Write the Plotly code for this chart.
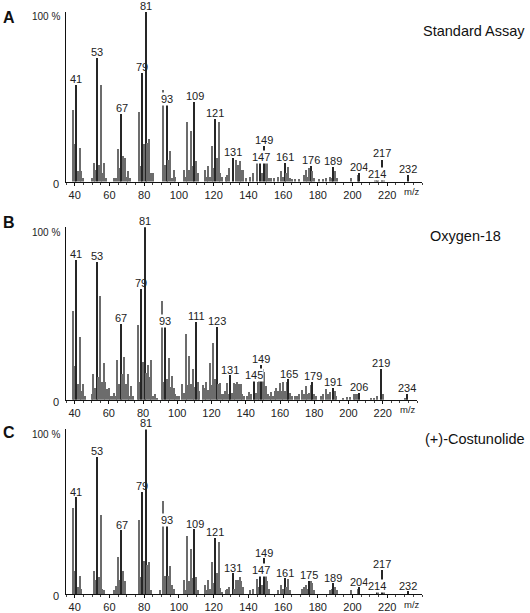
import plotly.graph_objects as go

# ---------------- data ----------------
A_MZ = [39,40,41,42,43,44,45,50,51,52,53,54,55,56,57,58,63,64,65,66,67,68,69,70,71,72,
        77,78,79,80,81,82,83,84,85,91,92,93,94,95,96,97,98,103,104,105,106,107,108,109,110,111,
        115,116,117,118,119,120,121,122,123,124,125,127,128,129,131,133,134,135,136,137,139,
        141,143,145,147,148,149,150,151,152,153,155,157,159,160,161,162,163,164,165,167,169,
        172,173,174,175,176,177,178,181,183,185,187,188,189,190,191,199,203,204,213,214,215,
        217,218,232]
A_INT = [42,22,57,6,20,6,2,2,11,7,73,10,57,5,11,2,2,2,19,8,40,15,14,3,6,2,
         41,9,64,22,100,23,25,5,5,54,10,45,13,18,2,7,3,7,3,35,7,30,9,47,12,5,
         7,3,9,3,21,8,37,14,35,5,3,3,4,8,14,13,10,12,7,7,2,
         3,5,11,11,5,21,12.5,10.7,2,2,2,3,6,3,11,5,8.5,2,1.5,1.5,1.5,
         4,7,3,8,9,6.5,2,1.5,1.5,2,3,2,8.5,6,2,2,4,5,1,1,2,
         13,1,4]
A_LABELS = [41,53,67,79,81,93,109,121,131,149,147,161,176,189,204,217,214,232]

B_MZ = [39,40,41,42,43,44,45,46,50,51,52,53,54,55,56,57,58,59,60,61,62,63,64,65,66,67,68,69,
        70,71,72,73,74,77,78,79,80,81,82,83,84,85,86,87,88,91,92,93,94,95,96,97,98,99,100,101,
        103,104,105,106,107,108,109,110,111,112,113,115,116,117,118,119,120,121,122,123,124,125,
        126,127,128,129,130,131,132,133,134,135,136,137,138,139,141,142,143,145,146,147,148,149,
        150,151,152,153,154,155,156,157,158,159,160,161,162,163,164,165,166,167,169,170,171,173,
        174,175,176,177,178,179,180,181,184,185,187,188,189,191,192,193,197,199,201,203,204,205,
        206,213,215,217,219,220,233,234]
B_INT = [51.5,19.5,81,9,36,5,9,2,3,15,7,80,13,60,10,21,10,6,7,2,2,4,2,23,9,44,15,24.5,
         9,15,2,8,2,43,10,64,21.5,100,15.5,20,13,23,2,3,1,57,10,42,12,24,7.5,13.5,6.5,3,2,2,
         9,4,38,8.5,25,9,18,7.5,45,10,5,8.5,6.5,10,5.5,21,8.5,33,12,42,9,9.5,
         3,3,5,9.5,3,14,4,9.5,9,10,9,9,3,2,2,4.5,3,11,4,10,17,20,
         18,16,8,3,2,4.5,2,5,7,5,9.5,5,10,5,10,11.7,4,2,2,2,3,5.5,
         3,8,3,4,8.5,10,3,2,2,3,6,3,4.6,7,5,2,1,1.5,1.5,3,3,3.3,
         4,1,1,2,18,3,1,3.3]
B_LABELS = [41,53,67,79,81,93,111,123,131,145,149,165,179,191,206,219,234]

C_MZ = [39,40,41,42,43,44,51,52,53,54,55,56,57,63,64,65,66,67,68,69,77,78,79,80,81,82,83,84,89,
        91,92,93,94,95,96,97,103,104,105,106,107,108,109,110,111,115,116,117,118,119,120,121,122,
        123,124,125,127,128,129,131,132,133,134,135,136,137,141,143,145,146,147,148,149,150,151,
        152,157,159,160,161,162,163,164,171,172,173,174,175,176,177,178,187,188,189,190,191,199,
        203,204,214,215,217,218,232]
C_INT = [52,13.5,58.6,4,11,3,14,8,83,10,47.6,3,2,2,4.4,22.5,8.4,38.6,14,7.4,45,10.4,62,20,100,17.5,19,2,2,
         56,11,41.6,11,16.5,5,3,8,2,35,7.4,27,9.4,39,10,2,5.4,2,8,3,19,6.4,34,12.7,
         31.5,3.4,1,2,3,3.8,12.5,3,8,8,10.4,7.4,4,2,3,8.8,4,11,5,21.5,11,7.4,
         3,2,5,3,9.4,4,9,2,3,3.8,5.4,3,7.8,7.8,6.4,2,2,3,6.4,3.8,2,2,
         3,3.8,1,1,14.5,1,1.5]
C_LABELS = [41,53,67,79,81,93,109,121,131,149,147,161,175,189,204,217,214,232]

# labels drawn on an opaque box (they hide bars behind them)
A_BOXED = [93, 147, 214]
B_BOXED = [93, 145]
C_BOXED = [93, 147, 214]

TITLES = ["Standard Assay", "Oxygen-18", "(+)-Costunolide"]
LETTERS = ["A", "B", "C"]
XTICKS = [40, 60, 80, 100, 120, 140, 160, 180, 200, 220]

for _mz, _it in ((A_MZ, A_INT), (B_MZ, B_INT), (C_MZ, C_INT)):
    if len(_mz) != len(_it):
        raise ValueError("length mismatch %d vs %d" % (len(_mz), len(_it)))

# ---------------- layout geometry (page pixels) ----------------
W, H = 530, 613


def fx(px):
    return px / W


def fy(py):
    return 1 - py / H


FONT = "Liberation Sans, Arial, sans-serif"
panels = [
    dict(mz=A_MZ, it=A_INT, labels=A_LABELS, boxed=A_BOXED, x0=66, x1=422, yt=12, yb=183,
         title_y=31, letter_y=17.5, mz_x=412),
    dict(mz=B_MZ, it=B_INT, labels=B_LABELS, boxed=B_BOXED, x0=66, x1=417, yt=229, yb=403,
         title_y=238, letter_y=224, mz_x=408),
    dict(mz=C_MZ, it=C_INT, labels=C_LABELS, boxed=C_BOXED, x0=66, x1=422, yt=433, yb=599,
         title_y=443, letter_y=436, mz_x=412),
]
TITLE_POS = [(527, "right"), (428, "left"), (527, "right")]

fig = go.Figure()
annotations = []
layout_axes = {}

for i, p in enumerate(panels):
    n = "" if i == 0 else str(i + 1)
    xa, ya = "x" + n, "y" + n
    colors = ["#262626" if m in p["labels"] else "#6c6c6c" for m in p["mz"]]
    fig.add_trace(go.Bar(x=p["mz"], y=p["it"], width=0.75, marker_color=colors,
                         marker_line_width=0, xaxis=xa, yaxis=ya, showlegend=False,
                         hoverinfo="x+y"))
    layout_axes["xaxis" + n] = dict(
        domain=[fx(p["x0"]), fx(p["x1"])], range=[35, 240], anchor=ya,
        showline=True, linecolor="#111", linewidth=1, showgrid=False, zeroline=False,
        ticks="outside", ticklen=3, tickcolor="#111", tickvals=XTICKS,
        tickfont=dict(family=FONT, size=11, color="#222"),
        minor=dict(ticks="outside", ticklen=2, dtick=5, tick0=0, tickcolor="#444"),
        fixedrange=True)
    layout_axes["yaxis" + n] = dict(
        domain=[fy(p["yb"]), fy(p["yt"])], range=[0, 100], anchor=xa,
        showline=True, linecolor="#111", linewidth=1, showgrid=False, zeroline=False,
        showticklabels=False, ticks="", fixedrange=True)

    # peak labels
    lookup = dict(zip(p["mz"], p["it"]))
    for m in p["labels"]:
        boxed = m in p["boxed"]
        annotations.append(dict(
            x=m, y=lookup[m], xref=xa, yref=ya, text=str(m), showarrow=False,
            xanchor="center", yanchor="bottom", yshift=-1,
            font=dict(family=FONT, size=11, color="#222"),
            bgcolor="white" if boxed else "rgba(0,0,0,0)", borderpad=0))

    # axis texts
    annotations.append(dict(x=fx(p["x0"]), y=100, xref="paper", yref=ya, text="100 %",
                            showarrow=False, xanchor="right", yanchor="middle",
                            xshift=-4, yshift=-5,
                            font=dict(family=FONT, size=10, color="#222")))
    annotations.append(dict(x=fx(p["x0"]), y=0, xref="paper", yref=ya, text="0",
                            showarrow=False, xanchor="right", yanchor="middle",
                            xshift=-5, yshift=-2,
                            font=dict(family=FONT, size=11, color="#222")))
    annotations.append(dict(x=fx(p["mz_x"]), y=fy(p["yb"] + 10), xref="paper",
                            yref="paper", text="m/z", showarrow=False,
                            xanchor="center", yanchor="middle",
                            font=dict(family=FONT, size=9.5, color="#222")))
    tx, tanchor = TITLE_POS[i]
    annotations.append(dict(x=fx(tx), y=fy(p["title_y"]), xref="paper", yref="paper",
                            text=TITLES[i], showarrow=False, xanchor=tanchor,
                            yanchor="middle",
                            font=dict(family=FONT, size=14.5, color="#111")))
    annotations.append(dict(x=fx(9), y=fy(p["letter_y"]), xref="paper", yref="paper",
                            text="<b>" + LETTERS[i] + "</b>", showarrow=False,
                            xanchor="center", yanchor="middle",
                            font=dict(family=FONT, size=16, color="#111")))

fig.update_layout(
    width=W, height=H, margin=dict(l=0, r=0, t=0, b=0),
    paper_bgcolor="white", plot_bgcolor="white",
    annotations=annotations, bargap=0, **layout_axes)

# remove the browser's default 8px page margin so the figure sits at the page origin
fig.write_html("out.html",
               config={"displayModeBar": False},
               post_script="document.body.style.margin='0';document.body.style.overflow='hidden';")
